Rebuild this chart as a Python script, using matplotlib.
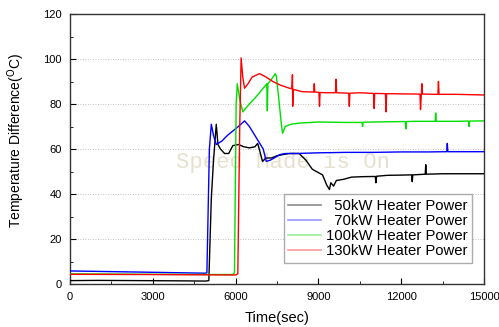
import matplotlib
matplotlib.use("Agg")
import matplotlib.pyplot as plt
from matplotlib.lines import Line2D
from matplotlib.ticker import MultipleLocator

plt.rcParams['font.family'] = ['Liberation Sans', 'DejaVu Sans']

# ---- data ----
t_50 = [0, 1000, 2500, 4000, 4900, 5030, 5120, 5200, 5300, 5360, 5450, 5600, 5750, 5900,
        6100, 6300, 6500, 6700, 6800, 6900, 6975, 7100, 7300, 7500, 7700, 7950, 8300,
        8550, 8780, 9000, 9150, 9300, 9400, 9450, 9550, 9650, 9900, 10200, 10600, 11060,
        11085, 11110, 11500, 12000, 12380, 12400, 12420, 12870, 12890, 12910, 13500, 14000, 15000]
v_50 = [1.5, 1.6, 1.5, 1.4, 1.3, 1.5, 38, 55, 71, 62, 60, 58, 58, 61.5,
        62, 61, 60.5, 61, 62.5, 58, 54.5, 56, 56, 57, 57.5, 58, 58,
        55, 51, 49.5, 48.5, 44, 42, 45, 43.5, 46, 46.5, 47.5, 47.7, 47.8,
        45, 47.9, 48.3, 48.4, 48.5, 45.5, 48.5, 48.8, 53, 48.8, 49, 49, 49]

t_70 = [0, 1500, 3000, 4900, 4960, 5050, 5120, 5200, 5300, 5500, 5700, 5900, 6100, 6325,
        6500, 6700, 6900, 7000, 7110, 7250, 7400, 7600, 7800, 8200, 9000, 10000, 11000,
        12000, 13000, 13650, 13670, 13690, 14000, 15000]
v_70 = [5.8, 5.5, 5.2, 4.8, 5, 60, 71, 66, 62, 63.5, 66, 68, 70, 72.5,
        70, 66, 62, 60, 54.5, 55, 56, 57.5, 58, 58, 58.3, 58.5, 58.5,
        58.7, 58.7, 58.8, 62.5, 58.8, 58.8, 58.8]

t_100 = [0, 3000, 5900, 5960, 6020, 6060, 6150, 6260, 6500, 6800, 7100, 7130, 7150, 7170,
         7300, 7440, 7480, 7550, 7650, 7700, 7800, 8000, 8300, 9000, 10000, 10580, 10600,
         10620, 11000, 12150, 12170, 12190, 12500, 13230, 13250, 13270, 14000, 14440, 14460,
         14480, 15000]
v_100 = [4.5, 4.3, 4.2, 5, 80, 89, 82, 76.5, 80, 84, 88.5, 89, 77, 89,
         91, 93.5, 92, 84, 72, 67, 70, 71, 71.5, 72, 71.8, 71.8, 70,
         71.9, 72, 72.2, 69, 72.2, 72.3, 72.3, 76, 72.3, 72.3, 72.4, 70,
         72.4, 72.5]

t_130 = [0, 3000, 6000, 6080, 6150, 6200, 6260, 6325, 6450, 6600, 6870, 7100, 7350, 7600,
         7950, 8040, 8060, 8070, 8090, 8400, 8830, 8850, 8870, 9020, 9040, 9060, 9300, 9620,
         9640, 9660, 10100, 10120, 10140, 10500, 11000, 11020, 11040, 11430, 11450, 11470,
         12000, 12680, 12700, 12730, 12750, 12770, 13330, 13350, 13370, 14000, 15000]
v_130 = [4.3, 4.2, 4.0, 4.5, 70, 100.5, 92, 87, 89, 92, 93.5, 92, 90, 88.5,
         87, 86.8, 93, 79, 86.5, 85.5, 85.3, 89, 85.3, 85.2, 79, 85.1, 85, 85,
         91, 85, 84.8, 79, 84.8, 85, 84.7, 78, 84.7, 84.6, 76.5, 84.6,
         84.5, 84.4, 77.5, 84.4, 89, 84.4, 84.3, 90, 84.3, 84.3, 84]

labels = ['  50kW Heater Power', '  70kW Heater Power', '100kW Heater Power', '130kW Heater Power']
colors = ['black', '#0000ff', '#00e000', '#ff0000']
legend_colors = ['#8c8c8c', '#9a9aff', '#9aee9a', '#ff9a9a']

x_ticks = [0, 3000, 6000, 9000, 12000, 15000]
y_ticks = [0, 20, 40, 60, 80, 100, 120]

fig = plt.figure(figsize=(4.99, 3.27), dpi=100)
ax = fig.add_axes([70/499, 1-284/327, (484-70)/499, (284-14)/327])

series = [(t_50, v_50), (t_70, v_70), (t_100, v_100), (t_130, v_130)]
for (t, v), c in zip(series, colors):
    ax.plot(t, v, color=c, lw=1.0, zorder=3)

ax.set_xlim(0, 15000)
ax.set_ylim(0, 120)
ax.set_xticks(x_ticks)
ax.set_yticks(y_ticks)
ax.xaxis.set_minor_locator(MultipleLocator(1500))
ax.yaxis.set_minor_locator(MultipleLocator(10))
ax.tick_params(which='both', direction='in', top=False, right=False, labelsize=8, pad=6)
ax.tick_params(which='major', length=4)
ax.tick_params(which='minor', length=2.5)
for y in [20, 40, 60, 80, 100]:
    ax.axhline(y, color='#b0b0b0', lw=0.6, ls=(0, (1, 2)), zorder=1)
for s in ax.spines.values():
    s.set_linewidth(1.0)
    s.set_color('#333333')

ax.text(0.515, 0.45, 'Speed Made is On', transform=ax.transAxes, ha='center', va='center',
        fontsize=16, family='Liberation Mono', color='#e6e1cf', zorder=0)

ax.set_xlabel('Time(sec)', fontsize=10.5, labelpad=6)
ax.set_ylabel('Temperature Difference($^{\\mathrm{O}}$C)', fontsize=10)
ax.yaxis.set_label_coords(-0.105, 0.53)

handles = [Line2D([], [], color=c, lw=1.2) for c in legend_colors]
leg = ax.legend(handles, labels, loc='lower right', bbox_to_anchor=(0.972, 0.078),
                fontsize=10.7, frameon=True, fancybox=False, edgecolor='#999999',
                handlelength=2.2, handletextpad=0.35, labelspacing=0.08,
                borderpad=0.3, borderaxespad=0)
leg.get_frame().set_linewidth(1.0)

fig.savefig('out.png', dpi=100)
